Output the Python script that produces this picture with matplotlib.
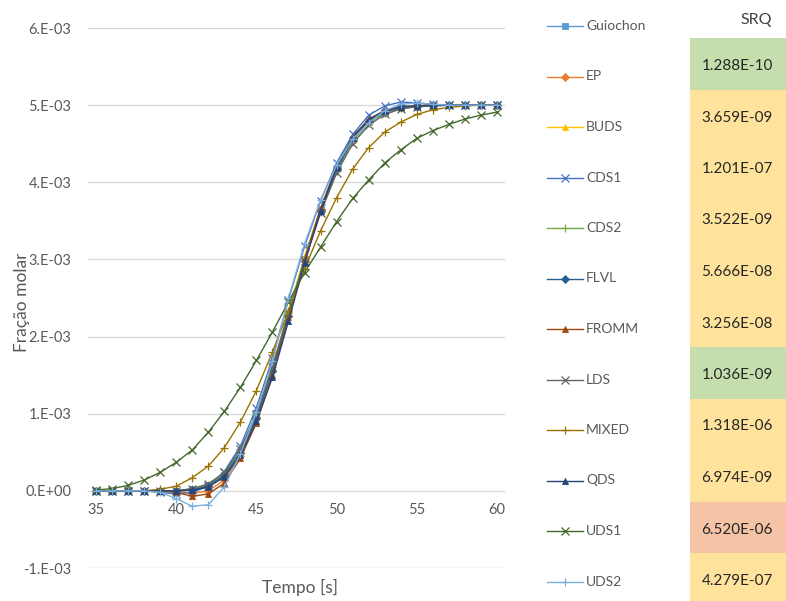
import matplotlib.pyplot as plt
from matplotlib.patches import Rectangle
from matplotlib.ticker import FixedLocator, FuncFormatter

plt.rcParams['font.family'] = ['Lato', 'DejaVu Sans']

# tempo [s]
t = list(range(35, 61))

# fração molar (x 1e-3), one list per scheme
guiochon = [0, 0, 0, 0, 0, 0, 0.02, 0.07, 0.21, 0.50, 0.97, 1.58, 2.30, 3.00, 3.65, 4.18, 4.56, 4.78, 4.90, 4.96, 4.98, 4.99, 5.0, 5.0, 5.0, 5.0]
ep = [0, 0, 0, 0, 0, -0.01, -0.03, 0.00, 0.14, 0.45, 0.93, 1.56, 2.30, 3.02, 3.66, 4.19, 4.57, 4.80, 4.92, 4.97, 4.99, 5.0, 5.0, 5.0, 5.0, 5.0]
buds = [0, 0, 0, 0, 0, 0, 0.01, 0.05, 0.19, 0.49, 0.97, 1.60, 2.33, 3.03, 3.66, 4.18, 4.55, 4.78, 4.90, 4.96, 4.99, 5.0, 5.0, 5.0, 5.0, 5.0]
cds1 = [0, 0, 0, 0, -0.02, -0.04, -0.02, 0.06, 0.25, 0.58, 1.08, 1.72, 2.48, 3.17, 3.76, 4.25, 4.62, 4.87, 4.99, 5.04, 5.03, 5.01, 5.0, 5.0, 5.0, 5.0]
cds2 = [0, 0, 0, 0, 0, 0, 0.02, 0.08, 0.23, 0.53, 1.00, 1.60, 2.32, 3.00, 3.62, 4.15, 4.53, 4.77, 4.90, 4.96, 4.98, 4.99, 5.0, 5.0, 5.0, 5.0]
flvl = [0, 0, 0, 0, 0, 0, 0.01, 0.06, 0.20, 0.49, 0.95, 1.55, 2.27, 2.98, 3.63, 4.17, 4.56, 4.79, 4.91, 4.97, 4.99, 5.0, 5.0, 5.0, 5.0, 5.0]
fromm = [0, 0, 0, 0, 0, -0.02, -0.07, -0.04, 0.10, 0.42, 0.88, 1.50, 2.25, 3.00, 3.66, 4.20, 4.59, 4.82, 4.93, 4.98, 4.99, 5.0, 5.0, 5.0, 5.0, 5.0]
lds = [0, 0, 0, 0, 0, 0, 0.03, 0.09, 0.24, 0.54, 1.00, 1.60, 2.30, 2.98, 3.60, 4.12, 4.50, 4.74, 4.88, 4.95, 4.98, 4.99, 5.0, 5.0, 5.0, 5.0]
mixed = [0, 0, 0, 0, 0.02, 0.06, 0.17, 0.32, 0.56, 0.89, 1.30, 1.80, 2.33, 2.88, 3.37, 3.80, 4.17, 4.45, 4.65, 4.78, 4.88, 4.94, 4.97, 4.99, 5.0, 5.0]
qds = [0, 0, 0, 0, 0, 0, 0.01, 0.05, 0.18, 0.46, 0.90, 1.47, 2.20, 2.95, 3.63, 4.20, 4.58, 4.81, 4.93, 4.98, 4.99, 5.0, 5.0, 5.0, 5.0, 5.0]
uds1 = [0.01, 0.03, 0.07, 0.14, 0.24, 0.37, 0.53, 0.76, 1.03, 1.34, 1.69, 2.06, 2.45, 2.83, 3.16, 3.49, 3.79, 4.03, 4.25, 4.42, 4.57, 4.67, 4.75, 4.82, 4.87, 4.91]
uds2 = [0, 0, 0, 0, -0.02, -0.10, -0.20, -0.18, 0.05, 0.48, 1.02, 1.68, 2.50, 3.20, 3.77, 4.22, 4.56, 4.77, 4.93, 5.01, 5.03, 5.01, 5.0, 5.0, 5.0, 5.0]

names = ['Guiochon', 'EP', 'BUDS', 'CDS1', 'CDS2', 'FLVL', 'FROMM', 'LDS', 'MIXED', 'QDS', 'UDS1', 'UDS2']
series = [guiochon, ep, buds, cds1, cds2, flvl, fromm, lds, mixed, qds, uds1, uds2]
colors = ['#5B9BD5', '#ED7D31', '#FFC000', '#4472C4', '#70AD47', '#255E91',
          '#9E480E', '#636363', '#997300', '#264478', '#43682B', '#7CAFDD']
markers = ['s', 'D', '^', 'x', '+', 'D', '^', 'x', '+', '^', 'x', '+']

# soma dos resíduos quadráticos de cada esquema
srq = ['1.288E-10', '3.659E-09', '1.201E-07', '3.522E-09', '5.666E-08', '3.256E-08',
       '1.036E-09', '1.318E-06', '6.974E-09', '6.520E-06', '4.279E-07']
srq_colors = ['#C6DEAD', '#FFE39C', '#FFE39C', '#FFE39C', '#FFE39C', '#FFE39C',
              '#C6DEAD', '#FFE39C', '#FFE39C', '#F5C3A5', '#FFE39C']


def marker_style(m):
    if m == 'D':
        return dict(ms=3.8, mew=0.6)
    if m in 'x+':
        return dict(ms=6, mew=0.9)
    return dict(ms=4.5, mew=0.6)


W, H = 786, 601
fig = plt.figure(figsize=(W / 100, H / 100), dpi=100)
ax = fig.add_axes([88 / W, 1 - 568 / H, 417 / W, 540 / H])

for y, name, c, m in zip(series, names, colors, markers):
    ax.plot(t, [v * 1e-3 for v in y], color=c, marker=m, lw=1.0, label=name,
            **marker_style(m))

ax.set_xlim(34.5, 60.5)
ax.set_ylim(-1e-3, 6e-3)
ax.yaxis.set_major_locator(FixedLocator([i * 1e-3 for i in range(-1, 7)]))


def excel_fmt(v, pos):
    m = round(v / 1e-3)
    if m == 0:
        return '0.E+00'
    return f'{m}.E-03'


ax.yaxis.set_major_formatter(FuncFormatter(excel_fmt))
ax.set_xticks([35, 40, 45, 50, 55, 60])
ax.grid(axis='y', color='#D9D9D9', lw=1)
ax.set_axisbelow(True)
for s in ['top', 'right', 'left']:
    ax.spines[s].set_visible(False)
ax.spines['bottom'].set_position(('data', 0))
ax.spines['bottom'].set_visible(False)
ax.tick_params(length=0, labelsize=10.5, labelcolor='#595959')
ax.tick_params(axis='x', pad=9)
ax.tick_params(axis='y', pad=12)

fig.text(22 / W, 1 - 302 / H, 'Fração molar', rotation=90, ha='center', va='center',
         fontsize=12.5, color='#595959')
fig.text(300 / W, 1 - 587 / H, 'Tempo [s]', ha='center', va='center',
         fontsize=12.5, color='#595959')

# legend and SRQ table drawn in pixel coordinates
lay = fig.add_axes([0, 0, 1, 1])
lay.set_xlim(0, W)
lay.set_ylim(H, 0)
lay.axis('off')

for i, (name, c, m) in enumerate(zip(names, colors, markers)):
    yy = 26 + 50.5 * i
    lay.plot([547, 583], [yy, yy], color=c, lw=1.0)
    lay.plot([565], [yy], color=c, marker=m, **marker_style(m))
    lay.text(586, yy, name, ha='left', va='center', fontsize=10, color='#595959')

lay.text(756, 20, 'SRQ', ha='center', va='center', fontsize=11.5, color='#404040')
for i, (val, c) in enumerate(zip(srq, srq_colors)):
    top = 38 + 51.5 * i
    lay.add_patch(Rectangle((690, top), 100, 51.5, facecolor=c, edgecolor='none'))
    lay.text(737, top + 28, val, ha='center', va='center', fontsize=11, color='#262626')

fig.savefig('out.png', dpi=100)
